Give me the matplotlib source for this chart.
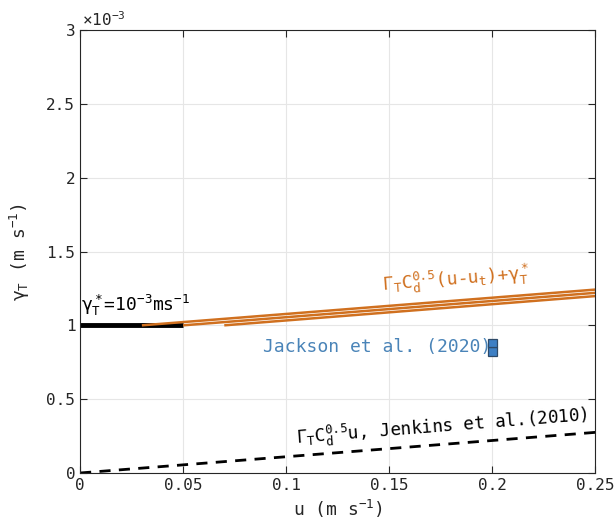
import matplotlib
matplotlib.use("Agg")
import matplotlib.pyplot as plt
import numpy as np

plt.rcParams['font.family'] = 'DejaVu Sans Mono'
plt.rcParams['mathtext.fontset'] = 'custom'
plt.rcParams['mathtext.rm'] = 'DejaVu Sans Mono'
plt.rcParams['mathtext.it'] = 'DejaVu Sans Mono'
plt.rcParams['mathtext.bf'] = 'DejaVu Sans Mono'

# Data
slope = 1.1e-3                    # Gamma_T * Cd^0.5
gamma_star = 1e-3
u_thresholds = [0.03, 0.05, 0.07]  # start of orange lines
u_max = 0.25
black_u = [0.0, 0.05]
black_g = [1e-3, 1e-3]
jenkins_u = [0.0, 0.25]
jackson_u = 0.2
jackson_low, jackson_mid, jackson_high = 0.79e-3, 0.85e-3, 0.91e-3

xticks = [0, 0.05, 0.1, 0.15, 0.2, 0.25]
xticklabels = ['0', '0.05', '0.1', '0.15', '0.2', '0.25']
yticks = [0, 0.5e-3, 1e-3, 1.5e-3, 2e-3, 2.5e-3, 3e-3]
yticklabels = ['0', '0.5', '1', '1.5', '2', '2.5', '3']

orange = '#D0701F'
blue_fill = '#3D7FC4'
blue_text = '#4A84B8'
fs = 11.5

fig = plt.figure(figsize=(6.16, 5.27), dpi=100)
ax = fig.add_axes([0.13, 0.1025, 0.836, 0.8405])

# Jenkins dashed
ju = np.array(jenkins_u)
ax.plot(ju, slope * ju, '--', color='black', lw=2, dashes=(4, 3))

# black line
ax.plot(black_u, black_g, color='black', lw=3.5, solid_capstyle='butt')

# orange lines
for ut in u_thresholds:
    uu = np.array([ut, u_max])
    ax.plot(uu, slope * (uu - ut) + gamma_star, color=orange, lw=1.8, solid_capstyle='butt')

# Jackson box
w = 0.0044
ax.bar([jackson_u, jackson_u], [jackson_mid - jackson_low, jackson_high - jackson_mid],
       bottom=[jackson_low, jackson_mid], width=w, color=blue_fill, edgecolor='#2E4A68', linewidth=0.9)

ax.set_xlim(0, 0.25)
ax.set_ylim(0, 3e-3)
ax.set_xticks(xticks)
ax.set_xticklabels(xticklabels, fontsize=fs)
ax.set_yticks(yticks)
ax.set_yticklabels(yticklabels, fontsize=fs)
ax.tick_params(direction='in', length=5, color='#262626', labelcolor='#262626')
ax.tick_params(top=True, right=True, labeltop=False, labelright=False)
ax.grid(True, color='#E6E6E6', lw=0.8)
ax.set_axisbelow(True)
for s in ax.spines.values():
    s.set_color('#262626')
    s.set_linewidth(0.8)

ax.text(0.003, 1.003, r'$\times\mathrm{10}^{\mathrm{-3}}$', transform=ax.transAxes,
        fontsize=fs, va='bottom', ha='left', color='#262626')

ax.set_xlabel(r'u (m s$^{\mathrm{-1}}$)', fontsize=13, color='#262626')
ax.set_ylabel(r'$\gamma_{\mathrm{T}}$ (m s$^{\mathrm{-1}}$)', fontsize=13, color='#262626', labelpad=10)

ang = 4.5
ax.text(0.0005, 1.097e-3, r'$\gamma^*_{\mathrm{T}}$=10$^{\mathrm{-3}}$ms$^{\mathrm{-1}}$',
        fontsize=13, color='black', ha='left', va='baseline')
ax.text(0.147, 1.235e-3, r'$\Gamma_{\mathrm{T}}$C$_{\mathrm{d}}^{\mathrm{0.5}}$(u-u$_{\mathrm{t}}$)+$\gamma^*_{\mathrm{T}}$',
        fontsize=13, color=orange, rotation=ang, rotation_mode='anchor', ha='left', va='baseline')
ax.text(0.105, 0.197e-3, r'$\Gamma_{\mathrm{T}}$C$_{\mathrm{d}}^{\mathrm{0.5}}$u, Jenkins et al.(2010)',
        fontsize=12.6, color='black', rotation=ang, rotation_mode='anchor', ha='left', va='baseline')
ax.text(0.089, 0.85e-3, 'Jackson et al. (2020)', fontsize=13, color=blue_text, ha='left', va='center')

fig.savefig('out.png', dpi=100)
